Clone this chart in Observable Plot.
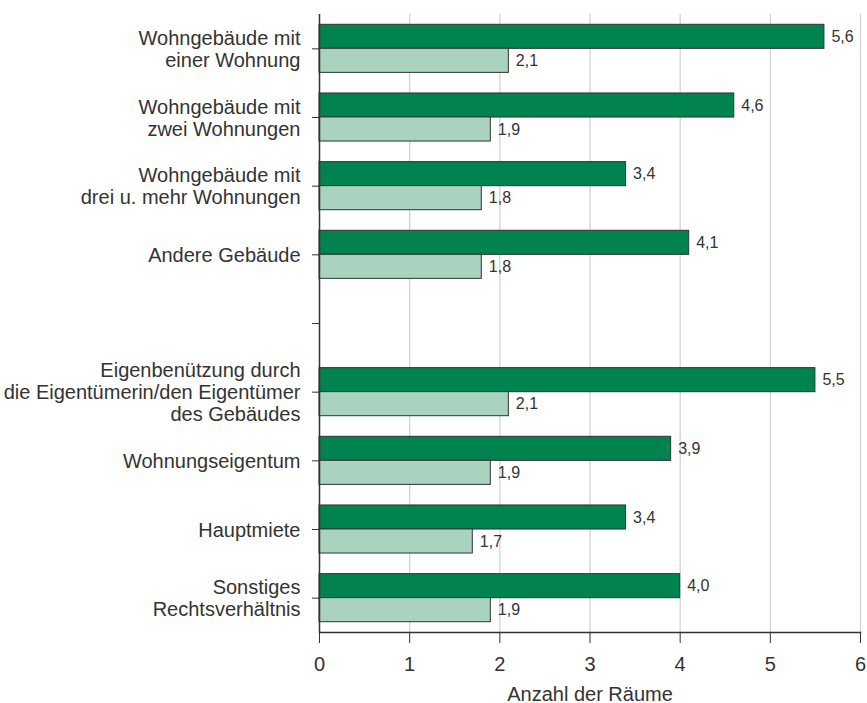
<!DOCTYPE html>
<html>
<head>
<meta charset="utf-8">
<script src="https://cdn.jsdelivr.net/npm/d3@7"></script>
<script src="https://cdn.jsdelivr.net/npm/@observablehq/plot@0.6"></script>
<style>
  html, body { margin: 0; padding: 0; background: #fff; }
  #chart svg { display: block; }
</style>
</head>
<body>
<div id="chart"></div>
<script>
// Categories (top to bottom); the blank entry is the empty slot between the two groups
const categories = [
  "Wohngebäude mit\neiner Wohnung",
  "Wohngebäude mit\nzwei Wohnungen",
  "Wohngebäude mit\ndrei u. mehr Wohnungen",
  "Andere Gebäude",
  "Eigenbenützung durch\ndie Eigentümerin/den Eigentümer\ndes Gebäudes",
  "Wohnungseigentum",
  "Hauptmiete",
  "Sonstiges\nRechtsverhältnis"
];
const gapSlot = " ";
const yDomain = [...categories.slice(0, 4), gapSlot, ...categories.slice(4)];

// Series values (dark bars, light bars)
const darkValues = [5.6, 4.6, 3.4, 4.1, 5.5, 3.9, 3.4, 4.0];
const lightValues = [2.1, 1.9, 1.8, 1.8, 2.1, 1.9, 1.7, 1.9];

// X tick labels
const xTicks = [0, 1, 2, 3, 4, 5, 6];
const xLabel = "Anzahl der Räume";

const rows = categories.map((c, i) => ({cat: c, dark: darkValues[i], light: lightValues[i]}));
const fmt = v => v.toFixed(1).replace(".", ",");

const chart = Plot.plot({
  width: 867,
  height: 703,
  marginLeft: 319,
  marginRight: 7,
  marginTop: 14,
  marginBottom: 71,
  style: {fontFamily: "'Liberation Sans', Arial, sans-serif", fontSize: "20px", color: "#333", background: "#fff"},
  x: {domain: [0, 6]},
  y: {domain: yDomain, type: "band", paddingInner: 0.3, paddingOuter: 0.15, round: false},
  marks: [
    Plot.gridX(xTicks.filter(t => t > 0), {stroke: "#cfcfcf", strokeOpacity: 1, strokeWidth: 1.2}),
    Plot.barX(rows, {x: "dark", y: "cat", fill: "#00834f", stroke: "#333", strokeWidth: 1, insetBottom: 24}),
    Plot.barX(rows, {x: "light", y: "cat", fill: "#a9d3be", stroke: "#333", strokeWidth: 1, insetTop: 24}),
    Plot.text(rows, {x: "dark", y: "cat", text: d => fmt(d.dark), dx: 7, dy: -12, textAnchor: "start", fontSize: 16, fill: "#333"}),
    Plot.text(rows, {x: "light", y: "cat", text: d => fmt(d.light), dx: 7, dy: 12, textAnchor: "start", fontSize: 16, fill: "#333"}),
    Plot.ruleX([0], {stroke: "#333", strokeWidth: 1.5}),
    Plot.frame({anchor: "bottom", stroke: "#333", strokeWidth: 1.5}),
    Plot.axisY({tickSize: 7, tickPadding: 12, fontSize: 20, lineHeight: 1.1, label: null, stroke: "#333", fill: "#333", tickFormat: d => d}),
    Plot.axisX({ticks: xTicks, tickSize: 11, tickPadding: 13, fontSize: 20, stroke: "#333", fill: "#333", label: xLabel, labelAnchor: "center", labelArrow: "none", tickFormat: d => String(d)})
  ]
});
document.getElementById("chart").appendChild(chart);
</script>
</body>
</html>
